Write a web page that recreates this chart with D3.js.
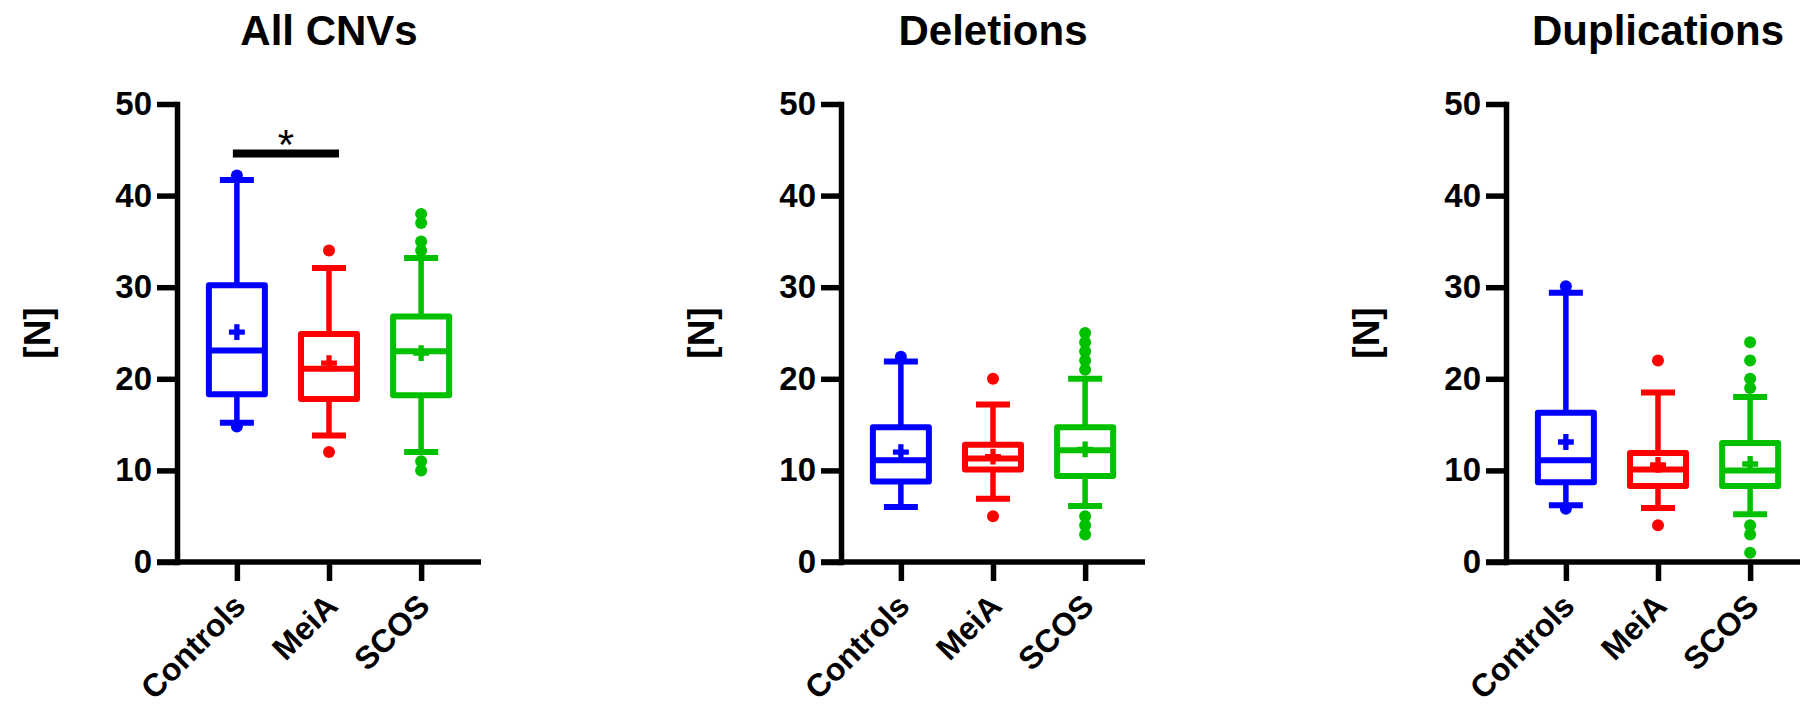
<!DOCTYPE html>
<html>
<head>
<meta charset="utf-8">
<script src="https://cdn.jsdelivr.net/npm/d3@7"></script>
<style>
  body { margin: 0; background: #fff; }
  svg { display: block; font-family: "Liberation Sans", Arial, sans-serif; }
</style>
</head>
<body>
<svg id="chart" width="1800" height="708"></svg>
<script>
const panelTitles = ["All CNVs", "Deletions", "Duplications"];
const groups = ["Controls", "MeiA", "SCOS"];
const groupColors = ["#0000ff", "#ff0000", "#00c000"];
const yTicks = [0, 10, 20, 30, 40, 50];

// box stats per group: [lower whisker, Q1, median, Q3, upper whisker]
const allBoxes = [[15.2, 18.3, 23.1, 30.2, 41.7], [13.8, 17.8, 21.1, 24.9, 32.1], [12.0, 18.2, 23.0, 26.8, 33.2]];
const allMeans = [25.1, 21.7, 22.8];
const allOutliers = [[14.8, 42.2], [12, 34], [10, 11, 34, 35, 37, 38]];

const delBoxes = [[6.0, 8.8, 11.1, 14.7, 21.9], [6.9, 10.1, 11.3, 12.8, 17.2], [6.1, 9.4, 12.2, 14.7, 20.0]];
const delMeans = [12.0, 11.5, 12.3];
const delOutliers = [[22.4], [5, 20], [3, 4, 5, 21, 22, 23, 24, 25]];

const dupBoxes = [[6.2, 8.7, 11.1, 16.3, 29.4], [5.9, 8.3, 10.1, 11.9, 18.5], [5.2, 8.3, 10.0, 13.0, 18.0]];
const dupMeans = [13.1, 10.6, 10.7];
const dupOutliers = [[5.8, 30.1], [4, 22], [1, 3, 4, 19, 20, 22, 24]];

// significance: [panel, from, to, level, label]
const sigBars = [[0, "Controls", "MeiA", 44.6, "*"]];

const panelData = [
  [allBoxes, allMeans, allOutliers],
  [delBoxes, delMeans, delOutliers],
  [dupBoxes, dupMeans, dupOutliers]
];
const panelX = [177, 841, 1506];

const svg = d3.select('#chart');
const lw = 5.5;

panelData.forEach(function(p, pi) {
  const g = svg.append('g').attr('transform', 'translate(' + panelX[pi] + ',0)');
  const x = d3.scalePoint().domain(groups).range([0, 304]).padding(0.65);
  const y = d3.scaleLinear().domain([0, 50]).range([562, 104]);

  g.append('text')
    .attr('x', x('MeiA')).attr('y', 45)
    .attr('text-anchor', 'middle')
    .style('font-size', '42px').style('font-weight', 'bold')
    .text(panelTitles[pi]);

  g.append('text')
    .attr('transform', 'translate(-140,' + (y(0) + y(50)) / 2 + ') rotate(-90)')
    .attr('dy', '0.35em')
    .attr('text-anchor', 'middle')
    .style('font-size', '37px').style('font-weight', 'bold')
    .text('[N]');

  // axes
  let ya = g.append('g')
    .call(d3.axisLeft(y).tickValues(yTicks).tickSize(20).tickSizeOuter(0).tickPadding(5));
  ya.select('.domain').attr('stroke-width', lw).attr('stroke-linecap', 'square');
  ya.selectAll('.tick line').attr('stroke-width', lw);
  ya.selectAll('text').attr('fill', '#000')
    .style('font-size', '33px').style('font-weight', 'bold');

  let xa = g.append('g').attr('transform', 'translate(0,' + y(0) + ')')
    .call(d3.axisBottom(x).tickSize(19).tickSizeOuter(0));
  xa.select('.domain').attr('d', 'M-20,0H' + x.range()[1]).attr('stroke-width', lw);
  xa.selectAll('.tick line').attr('stroke-width', lw);
  xa.selectAll('text')
    .attr('x', 0).attr('y', 0).attr('dy', 0)
    .attr('transform', 'translate(10,46) rotate(-45)')
    .attr('fill', '#000')
    .style('text-anchor', 'end')
    .style('font-size', '32px').style('font-weight', 'bold');

  let data = groups.map(function(k, i) {
    return { key: k, color: groupColors[i], s: p[0][i], mean: p[1][i], out: p[2][i] };
  });

  let bw = 56, cw = 17;
  let box = g.selectAll('g.box').data(data).enter().append('g')
    .attr('class', 'box')
    .attr('stroke', function(d) { return d.color; })
    .attr('fill', function(d) { return d.color; });

  box.append('line')
    .attr('x1', function(d) { return x(d.key); }).attr('x2', function(d) { return x(d.key); })
    .attr('y1', function(d) { return y(d.s[4]); }).attr('y2', function(d) { return y(d.s[3]); })
    .attr('stroke-width', lw);
  box.append('line')
    .attr('x1', function(d) { return x(d.key); }).attr('x2', function(d) { return x(d.key); })
    .attr('y1', function(d) { return y(d.s[1]); }).attr('y2', function(d) { return y(d.s[0]); })
    .attr('stroke-width', lw);
  [0, 4].forEach(function(j) {
    box.append('line')
      .attr('x1', function(d) { return x(d.key) - cw; }).attr('x2', function(d) { return x(d.key) + cw; })
      .attr('y1', function(d) { return y(d.s[j]); }).attr('y2', function(d) { return y(d.s[j]); })
      .attr('stroke-width', 6);
  });
  box.append('rect')
    .attr('x', function(d) { return x(d.key) - bw / 2; })
    .attr('width', bw)
    .attr('y', function(d) { return y(d.s[3]); })
    .attr('height', function(d) { return y(d.s[1]) - y(d.s[3]); })
    .attr('fill', 'none')
    .attr('stroke-width', 6)
    .attr('stroke-linejoin', 'round');
  box.append('line')
    .attr('x1', function(d) { return x(d.key) - bw / 2; }).attr('x2', function(d) { return x(d.key) + bw / 2; })
    .attr('y1', function(d) { return y(d.s[2]); }).attr('y2', function(d) { return y(d.s[2]); })
    .attr('stroke-width', 6);
  box.append('path')
    .attr('d', d3.symbol(d3.symbolCross).size(140))
    .attr('stroke', 'none')
    .attr('transform', function(d) { return 'translate(' + x(d.key) + ',' + y(d.mean) + ')'; });
  box.selectAll('circle').data(function(d) {
      return d.out.map(function(v) { return { key: d.key, v: v }; });
    }).enter().append('circle')
    .attr('cx', function(d) { return x(d.key); })
    .attr('cy', function(d) { return y(d.v); })
    .attr('r', 6)
    .attr('stroke', 'none');

  sigBars.filter(function(s) { return s[0] === pi; }).forEach(function(s) {
    g.append('line')
      .attr('x1', x(s[1]) - 4).attr('x2', x(s[2]) + 10)
      .attr('y1', y(s[3])).attr('y2', y(s[3]))
      .attr('stroke', '#000').attr('stroke-width', 8);
    g.append('text')
      .attr('x', (x(s[1]) + x(s[2])) / 2 + 3).attr('y', y(s[3]) + 6)
      .attr('text-anchor', 'middle')
      .style('font-size', '42px')
      .text(s[4]);
  });
});
</script>
</body>
</html>
